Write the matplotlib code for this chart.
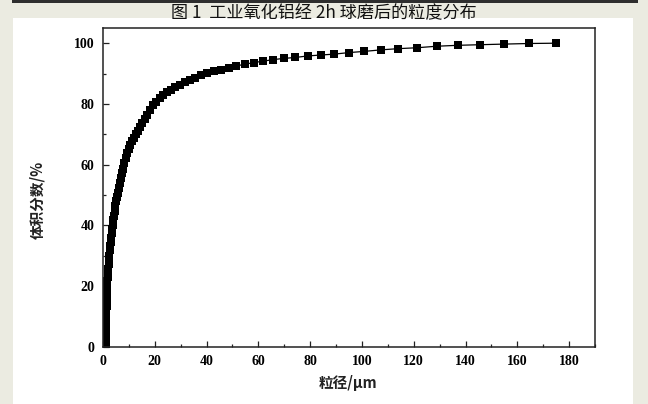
import matplotlib as mpl
from matplotlib import pyplot as plt
from matplotlib.patches import Rectangle
from matplotlib.ticker import MultipleLocator

mpl.rcParams['font.family'] = ['Noto Sans CJK SC', 'DejaVu Sans']
mpl.rcParams['axes.unicode_minus'] = False

# 粒径 (μm) 与累计体积分数 (%)
size_um = [1.0, 1.05, 1.1, 1.15, 1.2, 1.25, 1.3, 1.35, 1.4, 1.45, 1.5, 1.55, 1.6, 1.65,
           1.7, 1.8, 1.9, 2.0, 2.15, 2.3, 2.4, 2.6, 2.75, 2.9, 3.1, 3.3, 3.5, 3.7,
           4.0, 4.2, 4.5, 4.8, 5.1, 5.4, 5.7, 6.1, 6.5, 6.9, 7.3, 7.7, 8.2, 8.7,
           9.3, 9.9, 10.5, 11.2, 11.9, 12.6, 13.4, 14.3, 15.2, 16.1, 17.1, 18.2,
           19.4, 20.6, 21.9, 23.3, 24.7, 26.3, 27.9, 29.7, 31.6, 33.6, 35.7, 37.9,
           40.3, 42.9, 45.6, 48.5, 51.5, 54.8, 58.2, 61.9, 65.8, 69.9, 74.3, 79.0,
           84.0, 89.3, 94.9, 100.9, 107.3, 114.0, 121.2, 128.9, 137.0, 145.6,
           154.8, 164.6, 175.0]
vol_pct = [0.0, 1.8, 3.6, 5.3, 7.0, 8.5, 10.0, 11.7, 13.4, 15.0, 16.6, 18.1, 19.6, 20.7,
           21.7, 23.1, 24.4, 25.6, 27.4, 29.0, 30.1, 32.0, 33.3, 34.5, 36.0, 37.5, 38.8, 40.1,
           41.9, 43.0, 44.7, 46.4, 47.9, 49.3, 50.7, 52.4, 54.0, 55.7, 57.2, 58.7, 60.5, 62.1,
           64.0, 65.2, 66.4, 67.7, 68.9, 70.0, 71.2, 72.5, 73.7, 75.0, 76.4, 77.9,
           79.5, 80.8, 81.9, 82.9, 83.8, 84.7, 85.6, 86.4, 87.2, 88.0, 88.7, 89.4,
           90.1, 90.7, 91.3, 91.9, 92.5, 93.1, 93.6, 94.1, 94.6, 95.0, 95.3, 95.8,
           96.1, 96.4, 96.9, 97.3, 97.8, 98.2, 98.5, 99.0, 99.3, 99.5,
           99.7, 99.9, 100.0]

x_ticks = [0, 20, 40, 60, 80, 100, 120, 140, 160, 180]
y_ticks = [0, 20, 40, 60, 80, 100]

fig = plt.figure(figsize=(6.48, 4.04), dpi=100, facecolor='#ebebe1')

# 白色底板和顶部深色横线
fig.patches.append(Rectangle((12.5 / 648, 0), (633 - 12.5) / 648, (404 - 18) / 404,
                             transform=fig.transFigure, facecolor='white',
                             edgecolor='none', zorder=-10))
fig.patches.append(Rectangle((12 / 648, 1 - 3 / 404), (638 - 12) / 648, 3 / 404,
                             transform=fig.transFigure, facecolor='#2e2e2e',
                             edgecolor='none', zorder=-10))

fig.text(0.5, 1 - 13 / 404, '图 1  工业氧化铝经 2h 球磨后的粒度分布',
         ha='center', va='center', fontsize=12.3, fontweight='medium', color='#111111')

ax1 = fig.add_axes([103 / 648, 1 - 347 / 404, (595 - 103) / 648, (347 - 28) / 404])
ax1.plot(size_um, vol_pct, '-', color='black', linewidth=0.9,
         marker='s', markersize=5.3, markeredgewidth=0)

ax1.set_xlim(0, 190)
ax1.set_ylim(0, 105)
ax1.set_xticks(x_ticks)
ax1.set_yticks(y_ticks)
ax1.xaxis.set_minor_locator(MultipleLocator(10))
ax1.yaxis.set_minor_locator(MultipleLocator(10))
ax1.tick_params(which='both', direction='in', top=False, right=False,
                width=0.9, color='#222222', pad=6)
ax1.tick_params(which='major', length=4)
ax1.tick_params(which='minor', length=2.5)
for label in ax1.get_xticklabels() + ax1.get_yticklabels():
    label.set_family('Liberation Serif')
    label.set_fontweight('bold')
    label.set_fontsize(10)
for s in ax1.spines.values():
    s.set_linewidth(1.1)
    s.set_color('#222222')

fig.text(348 / 648, 1 - 383 / 404, '粒径/μm', ha='center', va='center',
         fontsize=10.5, fontweight='bold', color='#222222')
fig.text(37 / 648, 1 - 200 / 404, '体积分数/%', ha='center', va='center',
         rotation=90, fontsize=10.5, fontweight='bold', color='#222222')

fig.savefig('out.png', dpi=100, facecolor=fig.get_facecolor())
